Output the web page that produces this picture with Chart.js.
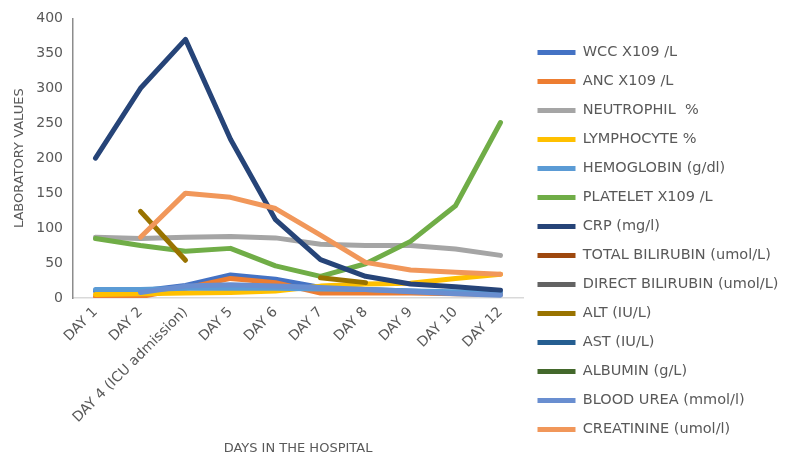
<!DOCTYPE html>
<html>
<head>
<meta charset="utf-8">
<script src="https://cdn.jsdelivr.net/npm/chart.js@4.4.1/dist/chart.umd.min.js"></script>
<style>
  html, body { margin: 0; padding: 0; background: #fff; }
  #wrap { width: 796px; height: 467px; }
</style>
</head>
<body>
<div id="wrap"><canvas id="grafica" width="796" height="467"></canvas></div>
<script>
// dias del eje x
const days = ['DAY 1', 'DAY 2', 'DAY 4 (ICU admission)', 'DAY 5', 'DAY 6', 'DAY 7', 'DAY 8', 'DAY 9', 'DAY 10', 'DAY 12'];
const yTicks = [0, 50, 100, 150, 200, 250, 300, 350, 400];

const seriesNames = ['WCC X109 /L', 'ANC X109 /L', 'NEUTROPHIL  %', 'LYMPHOCYTE %', 'HEMOGLOBIN (g/dl)',
  'PLATELET X109 /L', 'CRP (mg/l)', 'TOTAL BILIRUBIN (umol/L)', 'DIRECT BILIRUBIN (umol/L)', 'ALT (IU/L)',
  'AST (IU/L)', 'ALBUMIN (g/L)', 'BLOOD UREA (mmol/l)', 'CREATININE (umol/l)'];

const wcc = [10, 10, 18, 33, 27, 15, 12, 10, 7, 5];
const anc = [2, 2, 14, 28, 22, 7, 7, 7, 6, 5];
const neutrophil = [87, 85, 87, 88, 86, 77, 75, 75, 70, 61];
const lymphocyte = [5, 6, 7, 8, 10, 17, 20, 21, 28, 34];
const hemoglobin = [12, 12, 14, 14, 14, 13, 12, 10, 9, 8];
const platelet = [85, 75, 67, 71, 46, 31, 49, 81, 132, 251];
const crp = [200, 300, 370, 227, 112, 55, 31, 20, 16, 11];
const totalBilirubin = [null, null, null, null, null, null, null, null, null, null];
const directBilirubin = [null, null, null, null, null, null, null, null, null, null];
const alt = [null, 124, 54, null, null, 29, 22, null, null, null];
const ast = [null, null, null, null, null, null, null, null, null, null];
const albumin = [null, null, null, null, null, null, null, null, null, null];
const bloodUrea = [null, 8, 17, 19, 17, 15, 12, 9, 6, 4];
const creatinine = [null, 87, 150, 144, 128, 90, 51, 40, 37, 34];

const colores = ['#4472C4', '#ED7D31', '#A5A5A5', '#FFC000', '#5B9BD5', '#70AD47', '#264478',
  '#9E480E', '#636363', '#997300', '#255E91', '#43682B', '#698ED0', '#F1975A'];

const valores = [wcc, anc, neutrophil, lymphocyte, hemoglobin, platelet, crp, totalBilirubin,
  directBilirubin, alt, ast, albumin, bloodUrea, creatinine];

const fuente = 'DejaVu Sans';
const gris = '#595959';

const data = {
  labels: days,
  datasets: seriesNames.map((nombre, i) => ({
    label: nombre,
    data: valores[i],
    borderColor: colores[i],
    backgroundColor: colores[i],
    borderWidth: 5,
    borderCapStyle: 'round',
    borderJoinStyle: 'round',
    pointRadius: 0,
    pointHoverRadius: 0,
    tension: 0,
    spanGaps: false,
    order: seriesNames.length - i // las ultimas series quedan encima, como en Excel
  }))
};

const config = {
  type: 'line',
  data: data,
  options: {
    responsive: false,
    animation: false,
    layout: { padding: { top: 15, right: 0, left: 0, bottom: 0 } },
    plugins: {
      legend: {
        position: 'right',
        align: 'center',
        labels: {
          usePointStyle: true,
          pointStyle: 'line',
          pointStyleWidth: 38,
          padding: 14.5,
          color: gris,
          font: { family: fuente, size: 14.5 },
          sort: (a, b) => a.datasetIndex - b.datasetIndex
        }
      },
      tooltip: { enabled: false },
      title: { display: false }
    },
    scales: {
      x: {
        offset: true,
        grid: { display: false, drawTicks: false },
        border: { display: true, color: '#D9D9D9', width: 1.5 },
        ticks: {
          autoSkip: false,
          maxRotation: 45,
          minRotation: 45,
          padding: 6,
          color: gris,
          font: { family: fuente, size: 14 }
        },
        title: {
          display: true,
          text: 'DAYS IN THE HOSPITAL',
          color: gris,
          font: { family: fuente, size: 13 },
          padding: { top: 4, bottom: 11 }
        },
        afterFit: s => { s.height = 169; }
      },
      y: {
        min: 0,
        max: 400,
        afterBuildTicks: s => { s.ticks = yTicks.map(v => ({ value: v })); },
        grid: { display: false, drawTicks: false },
        border: { display: true, color: '#8C8C8C', width: 1.5 },
        ticks: {
          padding: 10,
          color: gris,
          font: { family: fuente, size: 14 }
        },
        title: {
          display: true,
          text: 'LABORATORY VALUES',
          color: gris,
          font: { family: fuente, size: 13 },
          padding: { top: 12, bottom: 0 }
        },
        afterFit: s => { s.width = 73; }
      }
    }
  }
};

const chart = new Chart(document.querySelector('#grafica'), config);

// la leyenda necesita mas ancho que el limite del layout (mitad del canvas / cajas verticales)
const fitOriginal = chart.legend.fit;
chart.legend.fit = function () {
  fitOriginal.call(this);
  this.width = 273;
};
chart.update();
</script>
</body>
</html>
